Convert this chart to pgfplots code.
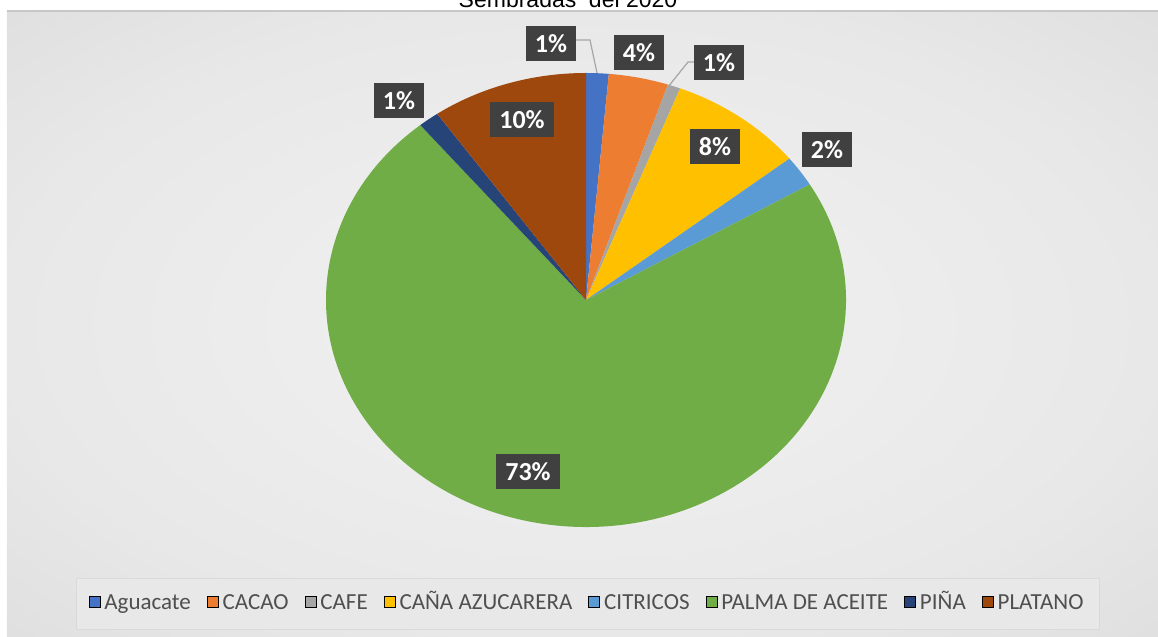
\documentclass[border=0pt]{standalone}
\usepackage{pgfplots}
\pgfplotsset{compat=1.18}
\usepackage{pgfplotstable}
\usepackage{fontspec}
\setmainfont{Carlito}
\newfontfamily\arialfont{Liberation Sans}

\definecolor{c0}{HTML}{4472C4}
\definecolor{c1}{HTML}{ED7D31}
\definecolor{c2}{HTML}{A5A5A5}
\definecolor{c3}{HTML}{FFC000}
\definecolor{c4}{HTML}{5B9BD5}
\definecolor{c5}{HTML}{70AD47}
\definecolor{c6}{HTML}{264478}
\definecolor{c7}{HTML}{9E480E}
\definecolor{lblbg}{HTML}{404040}
\definecolor{legtext}{HTML}{4F4F4F}
\definecolor{legbg}{HTML}{E8E8E8}
\definecolor{legborder}{HTML}{DADADA}
\definecolor{leader}{HTML}{A6A6A6}
\definecolor{bgin}{HTML}{F2F2F2}
\definecolor{bgmid}{HTML}{E8E8E8}
\definecolor{bgedge}{HTML}{D4D4D4}
\definecolor{bgout}{HTML}{CACACA}

\pgfdeclareradialshading{bgshade}{\pgfpoint{0bp}{0bp}}{%
  color(0bp)=(bgin); color(25bp)=(bgmid); color(50bp)=(bgedge); color(71bp)=(bgout)}

% slice values (percent), rounded label, label position (pixels, y up)
\pgfplotstableread[col sep=comma]{
value,label,lx,ly
1.4,1,551,593
3.7,4,639,584
0.8,1,719,574
8.4,8,715,490
2.2,2,827,487
72.5,73,528,165
1.3,1,399,536
9.7,10,522,517
}\piedata

\begin{document}
\begin{tikzpicture}
% cumulative angles, clockwise from 12 o'clock
\def\cum{0}
\pgfplotsforeachungrouped \i in {0,...,7}{%
  \pgfplotstablegetelem{\i}{value}\of\piedata
  \pgfmathsetmacro\sa{90-3.6*\cum}%
  \pgfmathsetmacro\cum{\cum+\pgfplotsretval}%
  \pgfmathsetmacro\sb{90-3.6*\cum}%
  \expandafter\xdef\csname sa\i\endcsname{\sa}%
  \expandafter\xdef\csname sb\i\endcsname{\sb}%
}
\begin{axis}[
  scale only axis,
  width=579pt, height=318.5pt,
  xmin=0, xmax=1158, ymin=0, ymax=637,
  hide axis,
  clip=false,
  legend columns=-1,
  legend cell align=left,
  legend image code/.code={\fill[#1] (0pt,-1.9pt) rectangle (5.5pt,3.6pt);},
  legend style={at={(0.5078,0.0518)}, anchor=center,
    fill=legbg, draw=legborder, text=legtext,
    font=\fontsize{11.5}{13}\selectfont,
    nodes={text height=8pt, text depth=2.5pt},
    inner xsep=6pt, inner ysep=5.5pt,
    /tikz/every even column/.append style={column sep=6pt}},
]
\coordinate (bl) at (axis cs:0,0);
\coordinate (tr) at (axis cs:1158,637);
\shade[shading=bgshade] (axis cs:7,0) rectangle (axis cs:1158,626);
\draw[color=black!22, line width=1pt] (axis cs:7,626) -- (axis cs:1158,626);

\pgfplotsinvokeforeach{0,...,7}{
  \edef\temp{\noexpand\fill[c#1] (axis cs:586,337) -- ++(\csname sa#1\endcsname:130pt and 113.5pt)
    arc[start angle=\csname sa#1\endcsname, end angle=\csname sb#1\endcsname, x radius=130pt, y radius=113.5pt] -- cycle;}
  \temp
}

% leader lines
\draw[leader, semithick] (axis cs:575,597) -- (axis cs:590,597) -- (axis cs:597,564);
\draw[leader, semithick] (axis cs:695,575) -- (axis cs:688,575) -- (axis cs:668,550);

\addplot[forget plot, draw=none, mark=none, point meta=explicit symbolic,
  nodes near coords={\pgfplotspointmeta\%},
  nodes near coords style={anchor=center, fill=lblbg, text=white,
    font=\fontsize{13}{15}\selectfont\bfseries,
    inner xsep=4.5pt, inner ysep=4.25pt, text height=9pt, text depth=0pt}]
  table[x=lx, y=ly, meta=label]{\piedata};

% title, cut off by the top edge as in the source image
\node[anchor=base, font=\arialfont\fontsize{11.5}{13}\selectfont]
  at (axis cs:568,629) {Sembradas\hspace{0.55em}del 2020};

\addlegendimage{fill=c0}\addlegendentry{Aguacate}
\addlegendimage{fill=c1}\addlegendentry{CACAO}
\addlegendimage{fill=c2}\addlegendentry{CAFE}
\addlegendimage{fill=c3}\addlegendentry{CAÑA AZUCARERA}
\addlegendimage{fill=c4}\addlegendentry{CITRICOS}
\addlegendimage{fill=c5}\addlegendentry{PALMA DE ACEITE}
\addlegendimage{fill=c6}\addlegendentry{PIÑA}
\addlegendimage{fill=c7}\addlegendentry{PLATANO}
\end{axis}
\pgfresetboundingbox
\useasboundingbox (bl) rectangle (tr);
\end{tikzpicture}
\end{document}
